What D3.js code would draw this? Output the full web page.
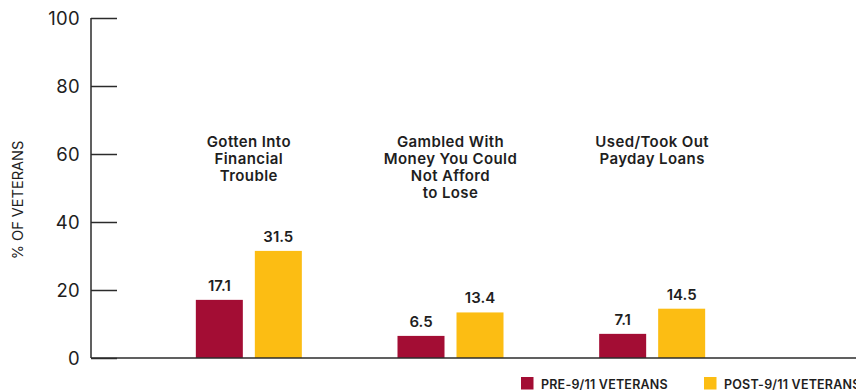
<!DOCTYPE html>
<html>
<head>
<meta charset="utf-8">
<script src="https://cdn.jsdelivr.net/npm/d3@7/dist/d3.min.js"></script>
<style>
  html, body { margin: 0; padding: 0; background: #fff; }
  svg { display: block; font-family: Inter, "Noto Sans", sans-serif; }
</style>
</head>
<body>
<svg id="chart" width="856" height="392"></svg>
<script>
// Survey results: share of veterans reporting each financial difficulty
const categories = [
  ["Gotten Into", "Financial", "Trouble"],
  ["Gambled With", "Money You Could", "Not Afford", "to Lose"],
  ["Used/Took Out", "Payday Loans"]
];
const seriesNames = ["PRE-9/11 VETERANS", "POST-9/11 VETERANS"];
const preValues = [17.1, 6.5, 7.1];
const postValues = [31.5, 13.4, 14.5];
const yTicks = [0, 20, 40, 60, 80, 100];
const colors = ["#A30D34", "#FCBD13"];

const svg = d3.select("#chart");
const axisX = 91, baseY = 358, topY = 18;

const keys = categories.map((c, i) => i);
const x0 = d3.scaleBand().domain(keys).range([148, 753]).padding(0);
const half = 53;
const x1 = d3.scaleBand().domain([0, 1])
  .range([x0.bandwidth() / 2 - half, x0.bandwidth() / 2 + half])
  .paddingInner(12 / 59).paddingOuter(0);
const y = d3.scaleLinear().domain([0, 100]).range([baseY, topY]);

// y axis: vertical line with ticks pointing right
const yAxis = d3.axisRight(y).tickValues(yTicks).tickSize(26).tickFormat("");
const gy = svg.append("g").attr("transform", `translate(${axisX},0)`).call(yAxis);
gy.select(".domain").remove();
gy.selectAll(".tick line").attr("stroke", "#2b2b2b").attr("stroke-width", 1.5);
svg.append("line")
  .attr("x1", axisX).attr("x2", axisX)
  .attr("y1", y(100)).attr("y2", baseY)
  .attr("stroke", "#2b2b2b").attr("stroke-width", 1.5);

// tick labels
svg.append("g").selectAll("text").data(yTicks).join("text")
  .attr("x", 80).attr("y", d => y(d))
  .attr("dy", "0.36em")
  .attr("text-anchor", "end")
  .attr("font-size", 18.5)
  .attr("letter-spacing", 0.3)
  .attr("fill", "#1e1e1e")
  .text(d => d);

// y axis title
svg.append("text")
  .attr("transform", `translate(23,${(topY + baseY) / 2 + 12}) rotate(-90)`)
  .attr("text-anchor", "middle")
  .attr("font-size", 14.5)
  .attr("fill", "#1e1e1e")
  .text("% OF VETERANS");

// bars
const data = keys.map(i => [preValues[i], postValues[i]]);
const groups = svg.append("g").selectAll("g").data(data).join("g")
  .attr("transform", (d, i) => `translate(${x0(i)},0)`);

groups.selectAll("rect").data(d => d).join("rect")
  .attr("x", (d, j) => x1(j))
  .attr("width", x1.bandwidth())
  .attr("y", d => y(d))
  .attr("height", d => baseY - y(d))
  .attr("fill", (d, j) => colors[j]);

groups.selectAll("text.value").data(d => d).join("text")
  .attr("class", "value")
  .attr("x", (d, j) => x1(j) + x1.bandwidth() / 2)
  .attr("y", d => y(d) - 9)
  .attr("text-anchor", "middle")
  .attr("font-size", 15)
  .attr("font-weight", 600)
  .attr("fill", "#1e1e1e")
  .text(d => d.toFixed(1));

// category labels
groups.each(function(d, i) {
  const t = d3.select(this).append("text")
    .attr("text-anchor", "middle")
    .attr("font-size", 15)
    .attr("font-weight", 600)
    .attr("letter-spacing", 0.4)
    .attr("fill", "#1e1e1e");
  categories[i].forEach((line, k) => {
    t.append("tspan")
      .attr("x", x0.bandwidth() / 2)
      .attr("y", 147 + k * 17)
      .text(line);
  });
});

// x axis baseline
svg.append("line")
  .attr("x1", axisX).attr("x2", 856)
  .attr("y1", baseY).attr("y2", baseY)
  .attr("stroke", "#2b2b2b").attr("stroke-width", 1.5);

// legend
const legendX = [521, 704];
const legend = svg.append("g").selectAll("g").data(seriesNames).join("g")
  .attr("transform", (d, i) => `translate(${legendX[i]},377)`);
legend.append("rect").attr("width", 12.5).attr("height", 12.5)
  .attr("fill", (d, i) => colors[i]);
legend.append("text")
  .attr("x", 20).attr("y", 11.5)
  .attr("font-size", 12.5)
  .attr("font-weight", 600)
  .attr("letter-spacing", 0.2)
  .attr("fill", "#1e1e1e")
  .text(d => d);
</script>
</body>
</html>
